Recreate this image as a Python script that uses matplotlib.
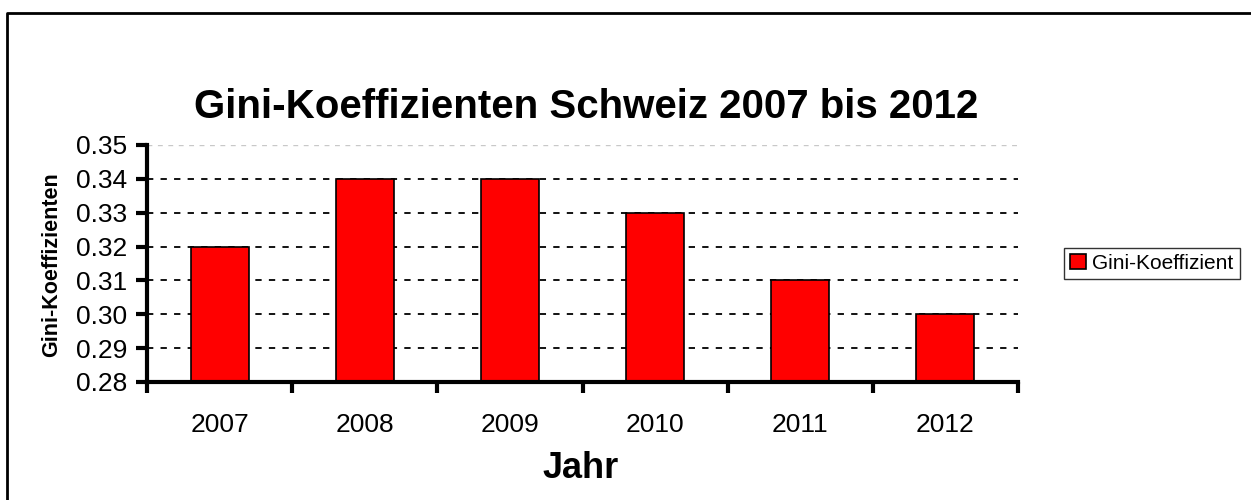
import matplotlib.pyplot as plt
from matplotlib.patches import Patch
from matplotlib.lines import Line2D
import numpy as np

plt.rcParams['font.family'] = ['Liberation Sans', 'DejaVu Sans']

years = ['2007', '2008', '2009', '2010', '2011', '2012']
gini = [0.32, 0.34, 0.34, 0.33, 0.31, 0.30]
yticks = [0.28, 0.29, 0.30, 0.31, 0.32, 0.33, 0.34, 0.35]

W, H = 1251, 500
fig = plt.figure(figsize=(W / 100, H / 100), dpi=100)
ax = fig.add_axes([147 / W, 1 - 382 / H, 871 / W, 237 / H])

x = np.arange(len(years))

# grid lines first so bars sit on top
for yv in yticks[1:-1]:
    ax.axhline(yv, color='black', lw=1.3, ls=(0, (3.5, 4)), zorder=1)
ax.axhline(yticks[-1], color='#c8c8c8', lw=1.0, ls=(0, (3.5, 4)), zorder=1)

ax.bar(x, gini, width=0.4, color='#ff0000', edgecolor='black', lw=1.2, zorder=2,
       label='Gini-Koeffizient')

ax.set_xlim(-0.5, len(years) - 0.5)
ax.set_ylim(0.28, 0.35)
ax.set_yticks(yticks)
ax.set_yticklabels([f'{v:.2f}' for v in yticks])
ax.set_xticks(x)
ax.set_xticklabels(years)
ax.set_xticks(np.arange(len(years) + 1) - 0.5, minor=True)

for s in ['top', 'right']:
    ax.spines[s].set_visible(False)
for s in ['left', 'bottom']:
    ax.spines[s].set_linewidth(3)

ax.tick_params(axis='y', direction='out', length=8, width=3, labelsize=19, pad=6)
ax.tick_params(axis='x', which='major', length=0, labelsize=19, pad=22)
ax.tick_params(axis='x', which='minor', direction='out', length=8, width=3)

fig.text(586 / W, 1 - 107 / H, 'Gini-Koeffizienten Schweiz 2007 bis 2012',
         fontsize=29, fontweight='bold', ha='center', va='center')
fig.text(52 / W, 1 - 265 / H, 'Gini-Koeffizienten', fontsize=15.5, fontweight='bold',
         rotation=90, ha='center', va='center')
fig.text(581 / W, 1 - 468 / H, 'Jahr', fontsize=26, fontweight='bold',
         ha='center', va='center')

handle = Patch(facecolor='#ff0000', edgecolor='black', lw=1.2)
leg = fig.legend([handle], ['Gini-Koeffizient'], loc='center left',
                 bbox_to_anchor=(1064 / W, 1 - 263.5 / H), fontsize=15,
                 frameon=True, fancybox=False, shadow=False,
                 handlelength=0.75, handleheight=0.75, handletextpad=0.3,
                 borderpad=0.3, borderaxespad=0)
leg.get_frame().set_edgecolor('black')
leg.get_frame().set_linewidth(1.0)

# outer chart frame (only left and top edges visible)
fig.add_artist(Line2D([7 / W, 7 / W, 1.0], [0.0, 1 - 12.5 / H, 1 - 12.5 / H],
                      color='black', lw=2))

fig.savefig('out.png', dpi=100, facecolor='white')
